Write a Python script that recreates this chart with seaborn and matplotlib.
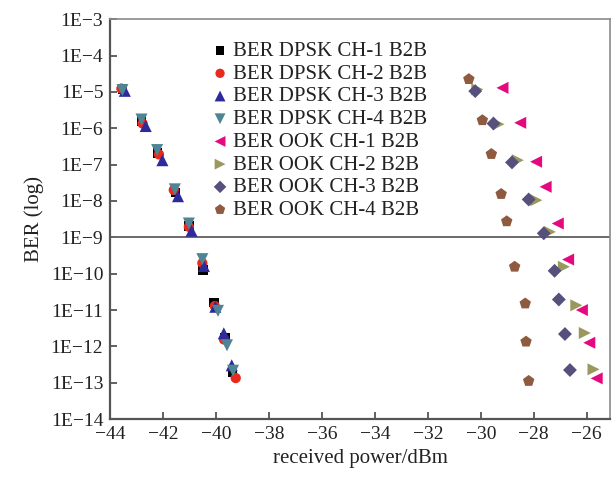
import matplotlib
matplotlib.use("Agg")
import matplotlib.pyplot as plt
import matplotlib.ticker as mticker
import numpy as np
import pandas as pd
import seaborn as sns

# Received optical power (dBm) and measured BER for each channel, back-to-back
dpsk_ch1_power = [-43.53, -42.81, -42.21, -41.53, -41.03, -40.49, -40.08, -39.67, -39.37]
dpsk_ch1_ber = [1.19e-5, 1.57e-6, 2.07e-7, 1.74e-8, 2.04e-9, 1.26e-10, 1.58e-11, 1.70e-12, 1.95e-13]

dpsk_ch2_power = [-43.58, -42.78, -42.16, -41.60, -41.03, -40.52, -40.05, -39.70, -39.26]
dpsk_ch2_ber = [1.23e-5, 1.35e-6, 1.91e-7, 2.00e-8, 1.95e-9, 1.95e-10, 1.29e-11, 1.55e-12, 1.35e-13]

dpsk_ch3_power = [-43.45, -42.66, -42.03, -41.44, -40.93, -40.46, -40.03, -39.71, -39.41]
dpsk_ch3_ber = [1.07e-5, 1.15e-6, 1.32e-7, 1.35e-8, 1.51e-9, 1.62e-10, 1.23e-11, 2.29e-12, 3.02e-13]

dpsk_ch4_power = [-43.54, -42.82, -42.23, -41.56, -41.03, -40.52, -39.93, -39.59, -39.36]
dpsk_ch4_ber = [1.12e-5, 1.74e-6, 2.51e-7, 2.09e-8, 2.40e-9, 2.51e-10, 9.5e-12, 1.07e-12, 2.14e-13]

ook_ch1_power = [-29.18, -28.51, -27.91, -27.55, -27.09, -26.70, -26.18, -25.90, -25.62]
ook_ch1_ber = [1.29e-5, 1.41e-6, 1.20e-7, 2.45e-8, 2.40e-9, 2.45e-10, 1.0e-11, 1.26e-12, 1.32e-13]

ook_ch2_power = [-30.13, -29.33, -28.60, -27.90, -27.39, -26.86, -26.39, -26.07, -25.74]
ook_ch2_ber = [1.17e-5, 1.29e-6, 1.32e-7, 1.05e-8, 1.41e-9, 1.55e-10, 1.35e-11, 2.34e-12, 2.34e-13]

ook_ch3_power = [-30.21, -29.52, -28.82, -28.19, -27.62, -27.21, -27.05, -26.82, -26.63]
ook_ch3_ber = [1.05e-5, 1.35e-6, 1.15e-7, 1.10e-8, 1.29e-9, 1.20e-10, 1.95e-11, 2.19e-12, 2.24e-13]

ook_ch4_power = [-30.45, -29.94, -29.60, -29.23, -29.02, -28.72, -28.32, -28.29, -28.19]
ook_ch4_ber = [2.24e-5, 1.66e-6, 1.95e-7, 1.55e-8, 2.75e-9, 1.55e-10, 1.51e-11, 1.35e-12, 1.12e-13]

series_labels = [
    "BER DPSK CH-1 B2B", "BER DPSK CH-2 B2B", "BER DPSK CH-3 B2B", "BER DPSK CH-4 B2B",
    "BER OOK CH-1 B2B", "BER OOK CH-2 B2B", "BER OOK CH-3 B2B", "BER OOK CH-4 B2B",
]
series_power = [dpsk_ch1_power, dpsk_ch2_power, dpsk_ch3_power, dpsk_ch4_power,
                ook_ch1_power, ook_ch2_power, ook_ch3_power, ook_ch4_power]
series_ber = [dpsk_ch1_ber, dpsk_ch2_ber, dpsk_ch3_ber, dpsk_ch4_ber,
              ook_ch1_ber, ook_ch2_ber, ook_ch3_ber, ook_ch4_ber]

x_ticks = [-44, -42, -40, -38, -36, -34, -32, -30, -28, -26]
y_exponents = list(range(-3, -15, -1))
ber_threshold = 1e-9

# Marker styling per series
markers = ["s", "o", "^", "v", "<", ">", "D", "p"]
colors = ["#000000", "#e8291c", "#2d2a9c", "#4f8495",
          "#e4097f", "#9a985c", "#56507c", "#8e5a40"]
sizes = [45, 55, 75, 75, 75, 75, 50, 75]

frames = []
for label, p, b in zip(series_labels, series_power, series_ber):
    frames.append(pd.DataFrame({"power": p, "ber": b, "series": label}))
df = pd.concat(frames, ignore_index=True)

sns.set_style("white")
plt.rcParams["font.family"] = ["Liberation Serif", "DejaVu Serif"]

fig = plt.figure(figsize=(6.16, 4.79), dpi=100)
ax = fig.add_axes([0.179, 0.125, 0.812, 0.835])

for i, label in enumerate(series_labels):
    sub = df[df["series"] == label]
    sns.scatterplot(data=sub, x="power", y="ber", marker=markers[i], color=colors[i],
                    s=sizes[i], edgecolor="none", linewidth=0, label=label, ax=ax,
                    zorder=3)

ax.axhline(ber_threshold, color="#6a6a6a", lw=1.4, zorder=2)

ax.set_yscale("log")
ax.set_ylim(1e-14, 1e-3)
ax.set_xlim(-44, -25.1)
ax.set_xticks(x_ticks)
ax.set_yticks([10.0 ** e for e in y_exponents])
ax.yaxis.set_minor_locator(mticker.NullLocator())
ax.set_yticklabels([f"1E\u2212{-e}" for e in y_exponents])
ax.set_xticklabels([f"\u2212{-t}" for t in x_ticks])

ax.tick_params(axis="both", which="major", direction="in", length=5, width=1.3,
               color="#555555", labelsize=14, labelcolor="#222222",
               top=False, right=False, left=True, bottom=True, pad=5)

ax.set_xlabel("received power/dBm", fontsize=15, color="#222222", labelpad=4)
ax.set_ylabel("BER (log)", fontsize=15, color="#222222", labelpad=5)

for side in ["left", "bottom"]:
    ax.spines[side].set_color("#555555")
    ax.spines[side].set_linewidth(1.6)
for side in ["top", "right"]:
    ax.spines[side].set_color("#8a8a8a")
    ax.spines[side].set_linewidth(1.2)

leg = ax.legend(loc="upper left", bbox_to_anchor=(0.182, 0.965), frameon=False,
                fontsize=15, handletextpad=0.1, labelspacing=0.15,
                borderaxespad=0, handlelength=1.0, markerscale=0.9)
for t in leg.get_texts():
    t.set_color("#222222")

fig.savefig("out.png", dpi=100)
